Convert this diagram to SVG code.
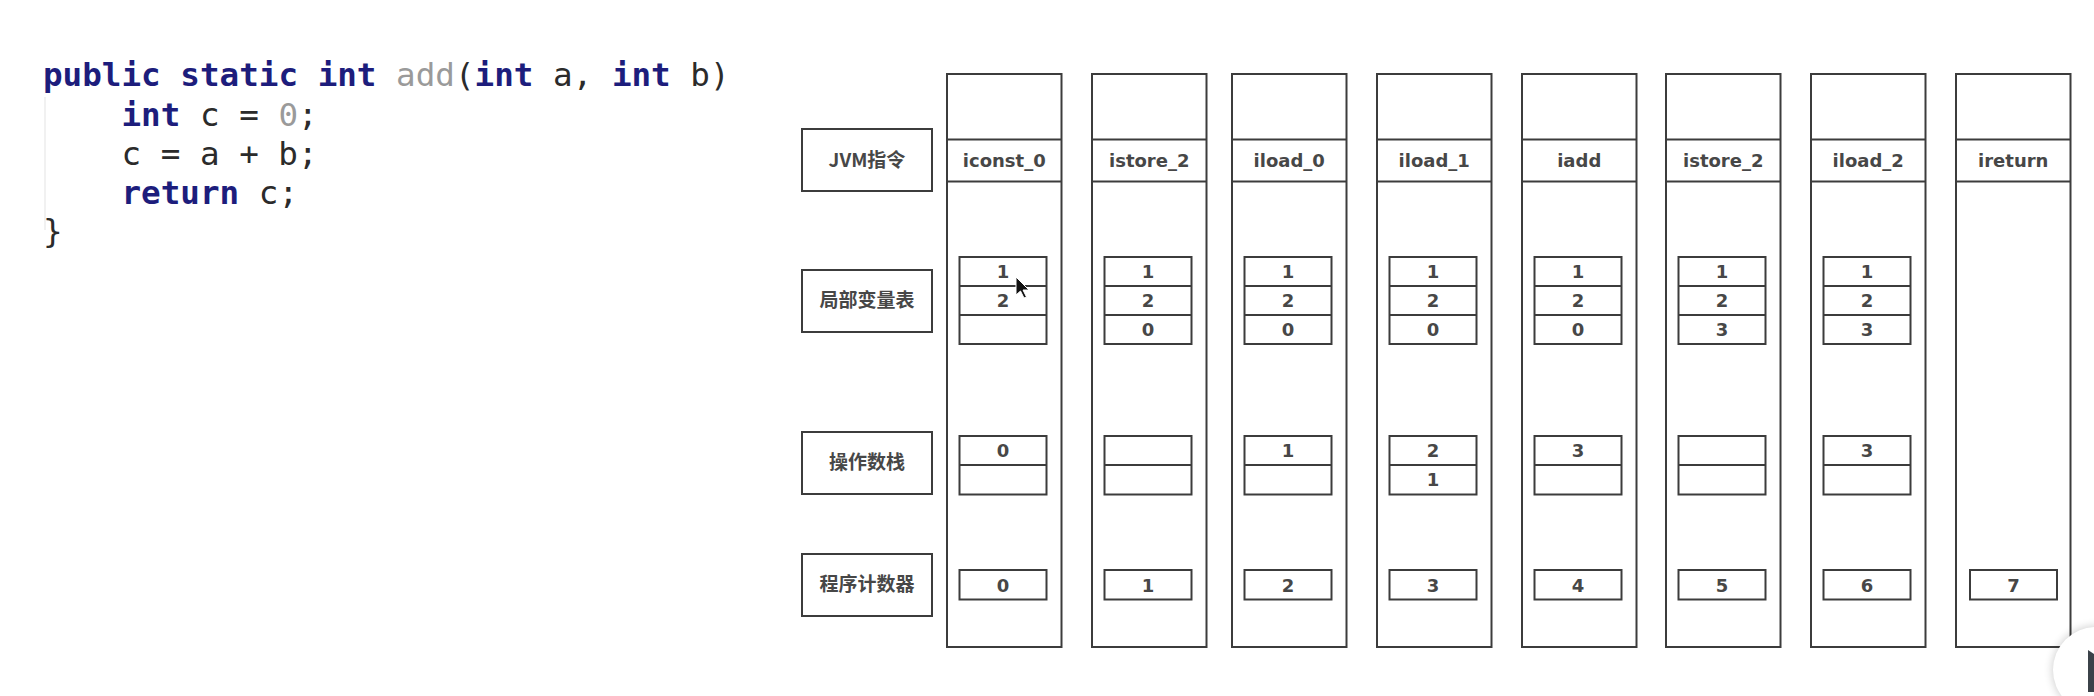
<svg xmlns="http://www.w3.org/2000/svg" width="2094" height="696" viewBox="0 0 2094 696">
<style>
.box{fill:#fff;stroke:#3c3c3c;stroke-width:2}
.ln{stroke:#3c3c3c;stroke-width:2}
.t{font-family:"DejaVu Sans","Liberation Sans",sans-serif;font-weight:bold;font-size:18px;fill:#474747;text-anchor:middle}
.cj{font-family:"Noto Sans CJK SC","Noto Sans",sans-serif;font-weight:bold;font-size:19px;fill:#474747;text-anchor:middle}
.code{font-family:"DejaVu Sans Mono","Liberation Mono",monospace;font-size:32.6px;fill:#2b2b2b;white-space:pre}
.kw{font-weight:bold;fill:#1d1d7c}
.gr{fill:#9a9a9a}
</style>
<defs>
<filter id="sh" x="-50%" y="-50%" width="200%" height="200%"><feGaussianBlur stdDeviation="4"/></filter>
</defs>
<rect width="2094" height="696" fill="#fff"/>

<g id="code">
<line x1="45" y1="97" x2="45" y2="230" stroke="#ececec" stroke-width="1.5"/>
<g class="code">
<text xml:space="preserve" x="43" y="86"><tspan class="kw">public</tspan> <tspan class="kw">static</tspan> <tspan class="kw">int</tspan> <tspan class="gr">add</tspan>(<tspan class="kw">int</tspan> a, <tspan class="kw">int</tspan> b)</text>
<text xml:space="preserve" x="43" y="125.5">    <tspan class="kw">int</tspan> c = <tspan class="gr">0</tspan>;</text>
<text xml:space="preserve" x="43" y="164.5">    c = a + b;</text>
<text xml:space="preserve" x="43" y="203.5">    <tspan class="kw">return</tspan> c;</text>
<text xml:space="preserve" x="43" y="242">}</text>
</g>
</g>

<g id="label-jvm"><rect class="box" x="802" y="129" width="130" height="62"/><text class="cj" x="867" y="167">JVM指令</text></g>
<g id="label-locals"><rect class="box" x="802" y="270" width="130" height="62"/><text class="cj" x="867" y="307">局部变量表</text></g>
<g id="label-stack"><rect class="box" x="802" y="432" width="130" height="62"/><text class="cj" x="867" y="469">操作数栈</text></g>
<g id="label-pc"><rect class="box" x="802" y="554" width="130" height="62"/><text class="cj" x="867" y="591">程序计数器</text></g>

<g id="col1" transform="translate(947,0)">
<rect class="box" x="0" y="74" width="114.5" height="573"/>
<line class="ln" x1="0" y1="139.5" x2="114.5" y2="139.5"/><line class="ln" x1="0" y1="181.5" x2="114.5" y2="181.5"/>
<text class="t" x="57.25" y="167">iconst_0</text>
<rect class="box" x="12.5" y="257" width="87" height="87"/><line class="ln" x1="12.5" y1="286" x2="99.5" y2="286"/><line class="ln" x1="12.5" y1="315" x2="99.5" y2="315"/>
<text class="t" x="56" y="278">1</text><text class="t" x="56" y="307">2</text>
<rect class="box" x="12.5" y="436" width="87" height="58.5"/><line class="ln" x1="12.5" y1="465" x2="99.5" y2="465"/>
<text class="t" x="56" y="457">0</text>
<rect class="box" x="12.5" y="570" width="87" height="29.5"/><text class="t" x="56" y="591.5">0</text>
</g>

<g id="col2" transform="translate(1092,0)">
<rect class="box" x="0" y="74" width="114.5" height="573"/>
<line class="ln" x1="0" y1="139.5" x2="114.5" y2="139.5"/><line class="ln" x1="0" y1="181.5" x2="114.5" y2="181.5"/>
<text class="t" x="57.25" y="167">istore_2</text>
<rect class="box" x="12.5" y="257" width="87" height="87"/><line class="ln" x1="12.5" y1="286" x2="99.5" y2="286"/><line class="ln" x1="12.5" y1="315" x2="99.5" y2="315"/>
<text class="t" x="56" y="278">1</text><text class="t" x="56" y="307">2</text><text class="t" x="56" y="336">0</text>
<rect class="box" x="12.5" y="436" width="87" height="58.5"/><line class="ln" x1="12.5" y1="465" x2="99.5" y2="465"/>
<rect class="box" x="12.5" y="570" width="87" height="29.5"/><text class="t" x="56" y="591.5">1</text>
</g>

<g id="col3" transform="translate(1232,0)">
<rect class="box" x="0" y="74" width="114.5" height="573"/>
<line class="ln" x1="0" y1="139.5" x2="114.5" y2="139.5"/><line class="ln" x1="0" y1="181.5" x2="114.5" y2="181.5"/>
<text class="t" x="57.25" y="167">iload_0</text>
<rect class="box" x="12.5" y="257" width="87" height="87"/><line class="ln" x1="12.5" y1="286" x2="99.5" y2="286"/><line class="ln" x1="12.5" y1="315" x2="99.5" y2="315"/>
<text class="t" x="56" y="278">1</text><text class="t" x="56" y="307">2</text><text class="t" x="56" y="336">0</text>
<rect class="box" x="12.5" y="436" width="87" height="58.5"/><line class="ln" x1="12.5" y1="465" x2="99.5" y2="465"/>
<text class="t" x="56" y="457">1</text>
<rect class="box" x="12.5" y="570" width="87" height="29.5"/><text class="t" x="56" y="591.5">2</text>
</g>

<g id="col4" transform="translate(1377,0)">
<rect class="box" x="0" y="74" width="114.5" height="573"/>
<line class="ln" x1="0" y1="139.5" x2="114.5" y2="139.5"/><line class="ln" x1="0" y1="181.5" x2="114.5" y2="181.5"/>
<text class="t" x="57.25" y="167">iload_1</text>
<rect class="box" x="12.5" y="257" width="87" height="87"/><line class="ln" x1="12.5" y1="286" x2="99.5" y2="286"/><line class="ln" x1="12.5" y1="315" x2="99.5" y2="315"/>
<text class="t" x="56" y="278">1</text><text class="t" x="56" y="307">2</text><text class="t" x="56" y="336">0</text>
<rect class="box" x="12.5" y="436" width="87" height="58.5"/><line class="ln" x1="12.5" y1="465" x2="99.5" y2="465"/>
<text class="t" x="56" y="457">2</text><text class="t" x="56" y="486">1</text>
<rect class="box" x="12.5" y="570" width="87" height="29.5"/><text class="t" x="56" y="591.5">3</text>
</g>

<g id="col5" transform="translate(1522,0)">
<rect class="box" x="0" y="74" width="114.5" height="573"/>
<line class="ln" x1="0" y1="139.5" x2="114.5" y2="139.5"/><line class="ln" x1="0" y1="181.5" x2="114.5" y2="181.5"/>
<text class="t" x="57.25" y="167">iadd</text>
<rect class="box" x="12.5" y="257" width="87" height="87"/><line class="ln" x1="12.5" y1="286" x2="99.5" y2="286"/><line class="ln" x1="12.5" y1="315" x2="99.5" y2="315"/>
<text class="t" x="56" y="278">1</text><text class="t" x="56" y="307">2</text><text class="t" x="56" y="336">0</text>
<rect class="box" x="12.5" y="436" width="87" height="58.5"/><line class="ln" x1="12.5" y1="465" x2="99.5" y2="465"/>
<text class="t" x="56" y="457">3</text>
<rect class="box" x="12.5" y="570" width="87" height="29.5"/><text class="t" x="56" y="591.5">4</text>
</g>

<g id="col6" transform="translate(1666,0)">
<rect class="box" x="0" y="74" width="114.5" height="573"/>
<line class="ln" x1="0" y1="139.5" x2="114.5" y2="139.5"/><line class="ln" x1="0" y1="181.5" x2="114.5" y2="181.5"/>
<text class="t" x="57.25" y="167">istore_2</text>
<rect class="box" x="12.5" y="257" width="87" height="87"/><line class="ln" x1="12.5" y1="286" x2="99.5" y2="286"/><line class="ln" x1="12.5" y1="315" x2="99.5" y2="315"/>
<text class="t" x="56" y="278">1</text><text class="t" x="56" y="307">2</text><text class="t" x="56" y="336">3</text>
<rect class="box" x="12.5" y="436" width="87" height="58.5"/><line class="ln" x1="12.5" y1="465" x2="99.5" y2="465"/>
<rect class="box" x="12.5" y="570" width="87" height="29.5"/><text class="t" x="56" y="591.5">5</text>
</g>

<g id="col7" transform="translate(1811,0)">
<rect class="box" x="0" y="74" width="114.5" height="573"/>
<line class="ln" x1="0" y1="139.5" x2="114.5" y2="139.5"/><line class="ln" x1="0" y1="181.5" x2="114.5" y2="181.5"/>
<text class="t" x="57.25" y="167">iload_2</text>
<rect class="box" x="12.5" y="257" width="87" height="87"/><line class="ln" x1="12.5" y1="286" x2="99.5" y2="286"/><line class="ln" x1="12.5" y1="315" x2="99.5" y2="315"/>
<text class="t" x="56" y="278">1</text><text class="t" x="56" y="307">2</text><text class="t" x="56" y="336">3</text>
<rect class="box" x="12.5" y="436" width="87" height="58.5"/><line class="ln" x1="12.5" y1="465" x2="99.5" y2="465"/>
<text class="t" x="56" y="457">3</text>
<rect class="box" x="12.5" y="570" width="87" height="29.5"/><text class="t" x="56" y="591.5">6</text>
</g>

<g id="col8" transform="translate(1956,0)">
<rect class="box" x="0" y="74" width="114.5" height="573"/>
<line class="ln" x1="0" y1="139.5" x2="114.5" y2="139.5"/><line class="ln" x1="0" y1="181.5" x2="114.5" y2="181.5"/>
<text class="t" x="57.25" y="167">ireturn</text>
<rect class="box" x="14" y="570" width="87" height="29.5"/><text class="t" x="57.5" y="591.5">7</text>
</g>

<g id="connectors"></g>

<g id="cursor">
<polygon points="1016,277 1016,295 1020.5,291 1024,298 1026.5,297 1023,290 1029,290" fill="#111" stroke="#fff" stroke-width="1"/>
</g>

<g id="player-button">
<circle cx="2096" cy="670" r="44" fill="#000" opacity="0.18" filter="url(#sh)"/>
<circle cx="2096" cy="670" r="43" fill="#fff"/>
<polygon points="2088,650 2094,654 2094,692 2088,692" fill="#3b4249"/>
</g>
</svg>
